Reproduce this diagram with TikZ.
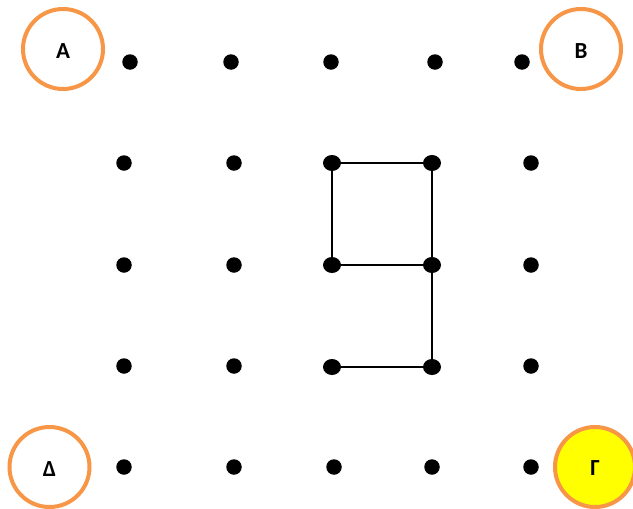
\documentclass[tikz,border=0pt]{standalone}
\usepackage{fontspec}
\usetikzlibrary{shapes.geometric}
\setmainfont{Carlito}
\definecolor{cornerorange}{RGB}{247,150,70}
\definecolor{pureyellow}{RGB}{255,255,0}
\begin{document}
\begin{tikzpicture}[x=1pt,y=-1pt,
  dot/.style={circle,fill=black,inner sep=0pt,minimum size=15.5pt},
  bigdot/.style={ellipse,fill=black,inner sep=0pt,minimum width=18pt,minimum height=16pt},
  corner/.style={circle,draw=cornerorange,line width=4pt,minimum size=80pt,inner sep=0pt},
  label/.style={font=\fontsize{23}{26}\selectfont\bfseries,inner sep=0pt},
  edge/.style={line width=1.6pt}]
\useasboundingbox (0,0) rectangle (633,509);
\node[corner] (A) at (63,49) {};
\node[corner] (B) at (581,49) {};
\node[corner] (D) at (49.5,467) {};
\node[corner,fill=pureyellow] (G) at (595,467) {};
\node[label] (tA) at ([yshift=-2.5pt]A.center) {A};
\node[label] (tB) at ([yshift=-2.5pt]B.center) {B};
\node[label] (tD) at ([yshift=-2pt]D.center) {Δ};
\node[label] (tG) at ([yshift=-1.5pt]G.center) {Γ};
% row 1
\node[dot] (r1c1) at (130,62) {};
\node[dot] (r1c2) at (231,62) {};
\node[dot] (r1c3) at (331,62) {};
\node[dot] (r1c4) at (435,62) {};
\node[dot] (r1c5) at (522,62) {};
% row 2
\node[dot] (r2c1) at (124,163) {};
\node[dot] (r2c2) at (234,163) {};
\coordinate (p23) at (332,163);
\coordinate (p24) at (432,163);
\node[dot] (r2c5) at (531,163) {};
% row 3
\node[dot] (r3c1) at (124,265) {};
\node[dot] (r3c2) at (234,265) {};
\coordinate (p33) at (332,265);
\coordinate (p34) at (432,265);
\node[dot] (r3c5) at (531,265) {};
% row 4
\node[dot] (r4c1) at (124,366) {};
\node[dot] (r4c2) at (234,366) {};
\coordinate (p43) at (332,367);
\coordinate (p44) at (432,367);
\node[dot] (r4c5) at (531,366) {};
% row 5
\node[dot] (r5c1) at (124,467) {};
\node[dot] (r5c2) at (234,467) {};
\node[dot] (r5c3) at (334,467) {};
\node[dot] (r5c4) at (432,467) {};
\node[dot] (r5c5) at (531,467) {};
% figure
\draw[edge] (p23) -- (p24) -- (p34) -- (p44) -- (p43);
\draw[edge] (p23) -- (p33) -- (p34);
\node[bigdot] (r2c3) at (p23) {};
\node[bigdot] (r2c4) at (p24) {};
\node[bigdot] (r3c3) at (p33) {};
\node[bigdot] (r3c4) at (p34) {};
\node[bigdot] (r4c3) at (p43) {};
\node[bigdot] (r4c4) at (p44) {};
\end{tikzpicture}
\end{document}
